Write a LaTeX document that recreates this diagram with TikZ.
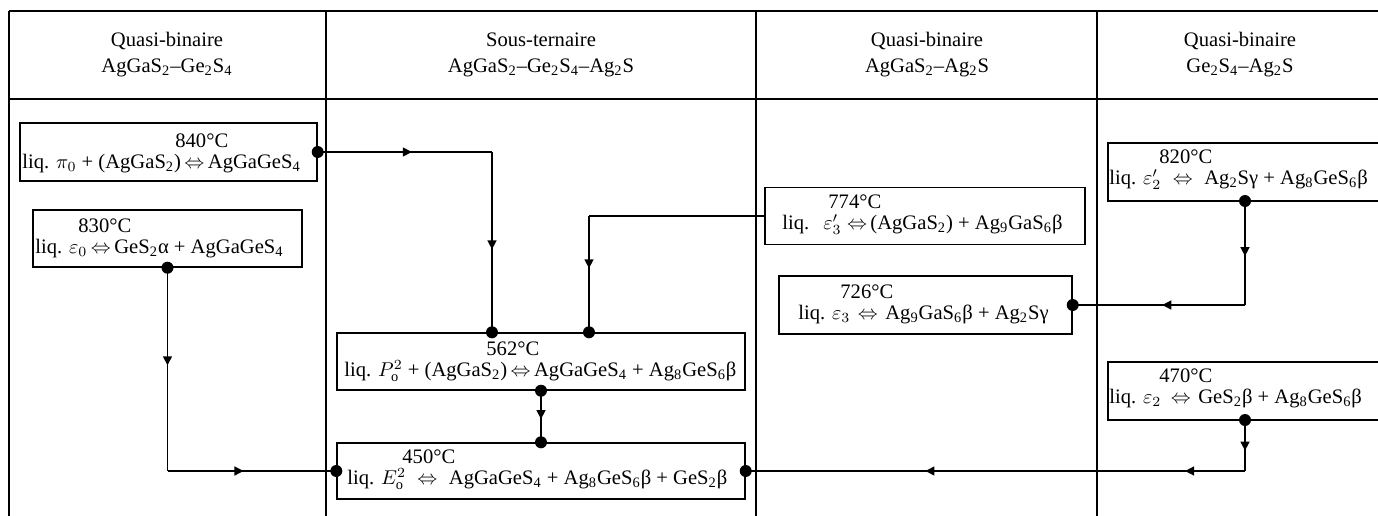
\documentclass[tikz,border=0pt]{standalone}
\usepackage{fontspec}
\setmainfont{Liberation Serif}
\usetikzlibrary{calc,decorations.markings,arrows.meta}
\newcommand{\sbs}[1]{\textsubscript{#1}}
\newcommand{\eqv}{\,$\Leftrightarrow$\,}
\newcommand{\tmp}[2]{\hspace*{#1}#2}
\tikzset{
  tline/.style={line width=1.3pt},
  rbox/.style={draw, line width=0.7pt, rectangle, inner sep=0pt},
  txt/.style={inner sep=0pt, anchor=west, align=left, font=\fontsize{10.3}{10.6}\selectfont},
  hdr/.style={align=center, inner sep=0pt, font=\fontsize{10.3}{13}\selectfont},
  conn/.style={line width=0.75pt},
  dot/.style={circle, fill, inner sep=0pt, minimum size=6pt},
  midarrow/.style={postaction={decorate},decoration={markings,mark=at position #1 with {\arrow{Triangle[length=4.5pt,width=4.5pt]}}}},
  twoarrows/.style 2 args={postaction={decorate},decoration={markings,mark=at position #1 with {\arrow{Triangle[length=4.5pt,width=4.5pt]}},mark=at position #2 with {\arrow{Triangle[length=4.5pt,width=4.5pt]}}}}
}
\begin{document}
\begin{tikzpicture}[x=0.5pt,y=-0.5pt]
\useasboundingbox (0,0) rectangle (1378,515);
\begin{scope}
\clip (0,0) rectangle (1378,515);
% table
\draw[tline] (9,11) -- (1390,11);
\draw[tline] (9,99) -- (1390,99);
\foreach \xx in {9,326,756,1097}{\draw[tline] (\xx,11) -- (\xx,520);}
% headers
\node[hdr] (h1) at (167,55) {Quasi-binaire\\AgGaS\sbs{2}--Ge\sbs{2}S\sbs{4}};
\node[hdr] (h2) at (541,55) {Sous-ternaire\\AgGaS\sbs{2}--Ge\sbs{2}S\sbs{4}--Ag\sbs{2}S};
\node[hdr] (h3) at (927,55) {Quasi-binaire\\AgGaS\sbs{2}--Ag\sbs{2}S};
\node[hdr] (h4) at (1240,55) {Quasi-binaire\\Ge\sbs{2}S\sbs{4}--Ag\sbs{2}S};
% boxes
\node[rbox, minimum width=148.5pt, minimum height=29pt] (A) at (168.5,152) {};
\node[txt] (At) at (22,153) {\tmp{76.5pt}{840°C}\\liq. $\pi_0$ + (AgGaS\sbs{2})\eqv AgGaGeS\sbs{4}};
\node[rbox, minimum width=134.5pt, minimum height=28.5pt] (B) at (167.5,238.5) {};
\node[txt] (Bt) at (35,238) {\tmp{21.5pt}{830°C}\\liq. $\varepsilon_0$\eqv GeS\sbs{2}α + AgGaGeS\sbs{4}};
\node[rbox, minimum width=204pt, minimum height=28.5pt] (C) at (541,361.5) {};
\node[txt] (Ct) at (344,362) {\tmp{71pt}{562°C}\\liq. $P^2_\mathrm{o}$ + (AgGaS\sbs{2})\eqv AgGaGeS\sbs{4} + Ag\sbs{8}GeS\sbs{6}β};
\node[rbox, minimum width=204pt, minimum height=28pt] (D) at (541,471) {};
\node[txt] (Dt) at (347,470) {\tmp{27.5pt}{450°C}\\liq. $E^2_\mathrm{o}$\hspace{4pt}\eqv\hspace{4pt}AgGaGeS\sbs{4} + Ag\sbs{8}GeS\sbs{6}β + GeS\sbs{2}β};
\node[rbox, minimum width=160pt, minimum height=28.5pt] (E) at (925,216) {};
\node[txt] (Et) at (782,215) {\tmp{23pt}{774°C}\\liq.\hspace{7pt}$\varepsilon'_3$\hspace{1pt}\eqv (AgGaS\sbs{2}) + Ag\sbs{9}GaS\sbs{6}β};
\node[rbox, minimum width=146.5pt, minimum height=29pt] (F) at (925.5,305) {};
\node[txt] (Ft) at (798,304) {\tmp{21pt}{726°C}\\liq. $\varepsilon_3$\hspace{2pt}\eqv\hspace{2pt}Ag\sbs{9}GaS\sbs{6}β + Ag\sbs{2}Sγ};
\node[rbox, minimum width=139pt, minimum height=29pt] (G) at (1247,172) {};
\node[txt] (Gt) at (1109,170) {\tmp{25pt}{820°C}\\liq. $\varepsilon'_2$\hspace{4pt}\eqv\hspace{4pt}Ag\sbs{2}Sγ + Ag\sbs{8}GeS\sbs{6}β};
\node[rbox, minimum width=139pt, minimum height=29pt] (H) at (1247,391) {};
\node[txt] (Ht) at (1109,388) {\tmp{25pt}{470°C}\\liq. $\varepsilon_2$\hspace{3pt}\eqv\hspace{2pt}GeS\sbs{2}β + Ag\sbs{8}GeS\sbs{6}β};
% connection points
\coordinate (c1) at ($(C.north)+(-49,0)$);
\coordinate (c2) at ($(C.north)+(48,0)$);
\coordinate (gs) at (1245,201);
\coordinate (hs) at (1245,420);
\coordinate (k1) at (c1 |- A.east);
\coordinate (k2) at (c2 |- E.west);
\coordinate (k3) at (B.south |- D.west);
\coordinate (k4) at (gs |- F.east);
\coordinate (k5) at (hs |- D.east);
% connectors
\draw[conn, midarrow=0.54] (A.east) -- (k1);
\draw[conn, midarrow=0.54] (k1) -- (c1);
\draw[conn] (E.west) -- (k2);
\draw[conn, midarrow=0.45] (k2) -- (c2);
\draw[conn, midarrow=0.48] (B.south) -- (k3);
\draw[conn, midarrow=0.45] (k3) -- (D.west);
\draw[conn, midarrow=0.55] (C.south) -- (D.north);
\draw[conn, midarrow=0.53] (gs) -- (k4);
\draw[conn, midarrow=0.48] (k4) -- (F.east);
\draw[conn, midarrow=0.6] (hs) -- (k5);
\draw[conn, twoarrows={0.12}{0.64}] (k5) -- (D.east);
% dots
\foreach \p in {A.east, B.south, c1, c2, C.south, D.north, D.west, D.east, F.east, gs, hs}{\node[dot] at (\p) {};}
\end{scope}
\end{tikzpicture}
\end{document}
